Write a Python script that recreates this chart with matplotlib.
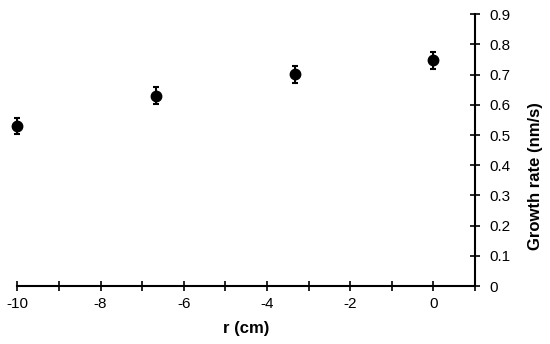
import matplotlib
matplotlib.use("Agg")
import matplotlib.pyplot as plt

plt.rcParams["font.family"] = ["Liberation Sans", "DejaVu Sans"]
plt.rcParams["axes.unicode_minus"] = False

r = [-10, -6.67, -3.33, 0]
rate = [0.530, 0.630, 0.702, 0.748]
err = [0.028, 0.028, 0.028, 0.028]

fig = plt.figure(figsize=(5.5, 3.44), dpi=100, facecolor="white")
ax = fig.add_axes([0.0315, 0.1686, 0.832, 0.7898])

ax.errorbar(r, rate, yerr=err, fmt="o", color="black", ms=7.5,
            capsize=2.5, elinewidth=1.5, capthick=1.5, clip_on=False)

ax.set_xlim(-10, 1)
ax.set_ylim(0, 0.9)
ax.set_xticks(range(-10, 1, 2))
ax.set_xticks(range(-10, 2), minor=True)
ax.set_yticks([i / 10 for i in range(10)])
ax.set_yticklabels(["0"] + ["%.1f" % (i / 10) for i in range(1, 10)])

ax.spines["top"].set_visible(False)
ax.spines["left"].set_visible(False)
ax.spines["bottom"].set_linewidth(1.5)
ax.spines["right"].set_linewidth(1.5)
ax.yaxis.tick_right()
ax.yaxis.set_label_position("right")
ax.tick_params(axis="both", which="both", direction="inout", width=1.2, labelsize=11)
ax.tick_params(axis="both", which="major", length=6.5)
ax.tick_params(axis="x", which="minor", length=6.5)
ax.tick_params(axis="y", pad=7)
ax.tick_params(axis="x", pad=5)

ax.set_xlabel("r (cm)", fontweight="bold", fontsize=12, labelpad=7)
ax.set_ylabel("Growth rate (nm/s)", fontweight="bold", fontsize=12, labelpad=13)
ax.yaxis.label.set_y(0.404)

fig.savefig("out.png", dpi=100)
